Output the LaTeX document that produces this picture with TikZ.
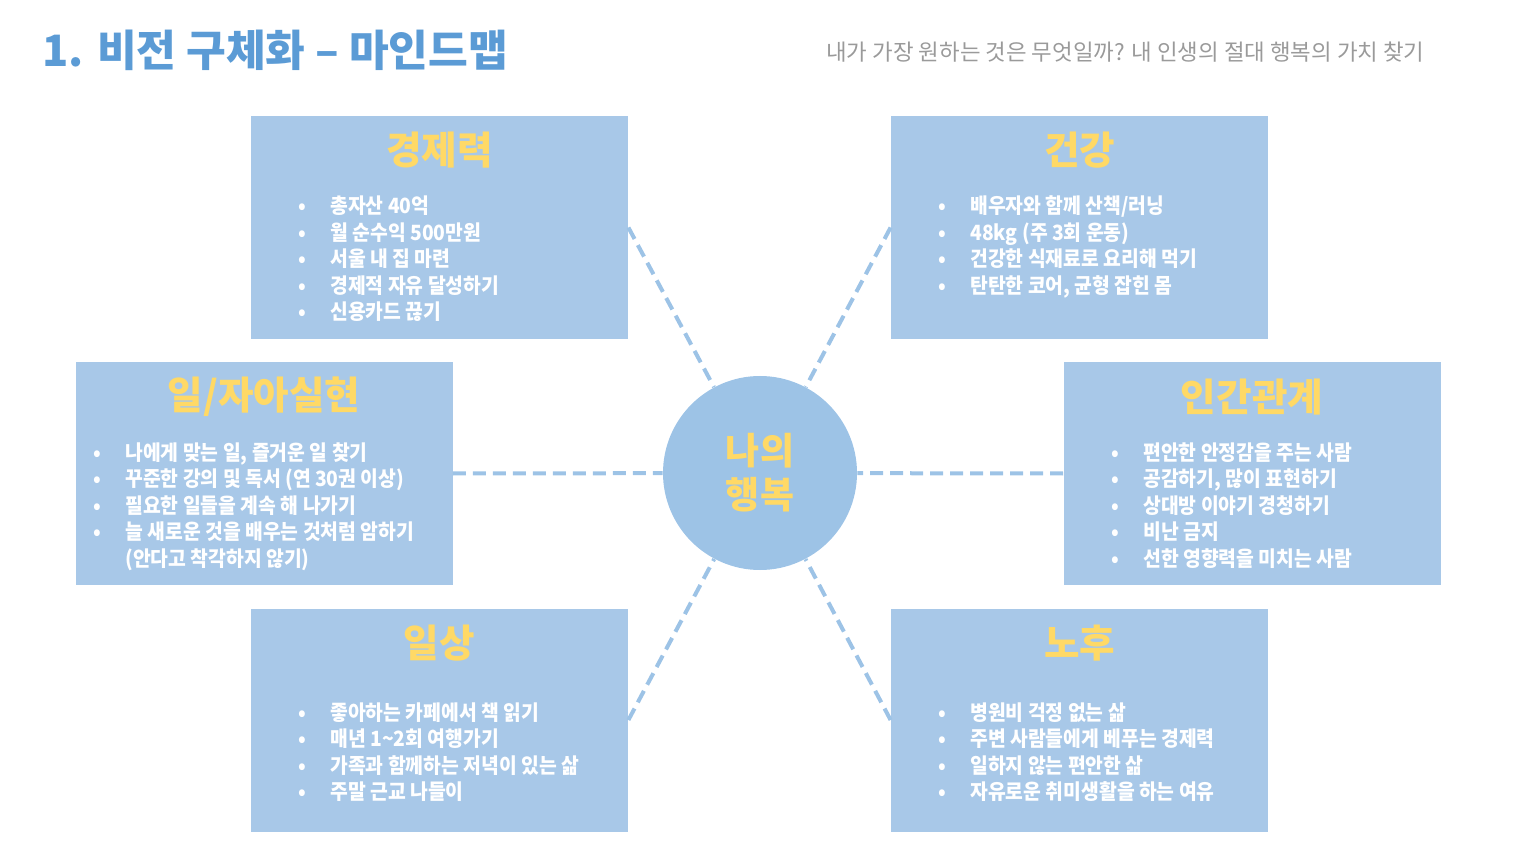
\documentclass[tikz,border=0pt]{standalone}
\usepackage{fontspec}
\setmainfont{Noto Sans CJK KR}
\newfontfamily\bodyfont{Noto Sans CJK KR}[FakeStretch=0.92]
\definecolor{boxfill}{HTML}{A8C8E8}
\definecolor{hubblue}{HTML}{9DC3E6}
\definecolor{headyellow}{HTML}{FFD966}
\definecolor{titleblue}{HTML}{5B9BD5}
\definecolor{subgray}{HTML}{9A9A9A}
\begin{document}
\begin{tikzpicture}[x=0.5pt,y=-0.5pt,
  box/.style={rectangle, fill=boxfill, draw=none, minimum width=188.5pt, minimum height=111.5pt, inner sep=0pt},
  head/.style={text=headyellow, font=\fontsize{19.3}{23}\selectfont\bfseries, inner sep=0pt},
  listtext/.style={text=white, font=\bodyfont\bfseries\fontsize{10.5}{13.25}\selectfont, inner sep=0pt, anchor=base west},
  link/.style={draw=hubblue, line width=2pt, dash pattern=on 6.5pt off 3.5pt},
  hub/.style={circle, fill=hubblue, minimum size=97pt, inner sep=0pt, text=headyellow, font=\fontsize{18.5}{22}\selectfont\bfseries, align=center}]
\useasboundingbox (0,0) rectangle (1520,855);
\newcommand{\blist}[1]{\begin{tabular}[t]{@{}p{16pt}@{}l@{}}#1\end{tabular}}

\node[anchor=west, inner sep=0pt, text=titleblue, font=\fontsize{21.6}{25}\selectfont\bfseries] (title) at (42,50) {1. 비전 구체화 – 마인드맵};
\node[anchor=east, inner sep=0pt, text=subgray, font=\fontsize{11.2}{13}\selectfont] (subtitle) at (1425,52) {내가 가장 원하는 것은 무엇일까? 내 인생의 절대 행복의 가치 찾기};

\node[box] (econ) at (439.5,227.5) {};
\node[box] (health) at (1079.5,227.5) {};
\node[box] (work) at (264,473.5) {};
\node[box] (rel) at (1252,473.5) {};
\node[box] (daily) at (439.5,720) {};
\node[box] (retire) at (1079.5,720) {};

\node[head] (econ-h) at (439.5,150) {경제력};
\node[head] (health-h) at (1079.5,150) {건강};
\node[head] (work-h) at (264,397) {일/자아실현};
\node[head] (rel-h) at (1252,397) {인간관계};
\node[head] (daily-h) at (439.5,643) {일상};
\node[head] (retire-h) at (1079.5,643) {노후};

\node[listtext] (econ-l) at (298,214) {\blist{•&총자산 40억\\ •&월 순수익 500만원\\ •&서울 내 집 마련\\ •&경제적 자유 달성하기\\ •&신용카드 끊기}};
\node[listtext] (health-l) at (938,214) {\blist{•&배우자와 함께 산책/러닝\\ •&48kg (주 3회 운동)\\ •&건강한 식재료로 요리해 먹기\\ •&탄탄한 코어, 균형 잡힌 몸}};
\node[listtext] (work-l) at (93,460) {\blist{•&나에게 맞는 일, 즐거운 일 찾기\\ •&꾸준한 강의 및 독서 (연 30권 이상)\\ •&필요한 일들을 계속 해 나가기\\ •&늘 새로운 것을 배우는 것처럼 암하기\\ &(안다고 착각하지 않기)}};
\node[listtext] (rel-l) at (1111,460) {\blist{•&편안한 안정감을 주는 사람\\ •&공감하기, 많이 표현하기\\ •&상대방 이야기 경청하기\\ •&비난 금지\\ •&선한 영향력을 미치는 사람}};
\node[listtext] (daily-l) at (298,720) {\blist{•&좋아하는 카페에서 책 읽기\\ •&매년 1\textasciitilde2회 여행가기\\ •&가족과 함께하는 저녁이 있는 삶\\ •&주말 근교 나들이}};
\node[listtext] (retire-l) at (938,720) {\blist{•&병원비 걱정 없는 삶\\ •&주변 사람들에게 베푸는 경제력\\ •&일하지 않는 편안한 삶\\ •&자유로운 취미생활을 하는 여유}};

\node[hub] (hub) at (760,473) {나의\\행복};

\draw[link] (econ.east) -- (hub);
\draw[link] (health.west) -- (hub);
\draw[link] (work.east) -- (hub);
\draw[link] (rel.west) -- (hub);
\draw[link] (daily.east) -- (hub);
\draw[link] (retire.west) -- (hub);
\end{tikzpicture}
\end{document}
